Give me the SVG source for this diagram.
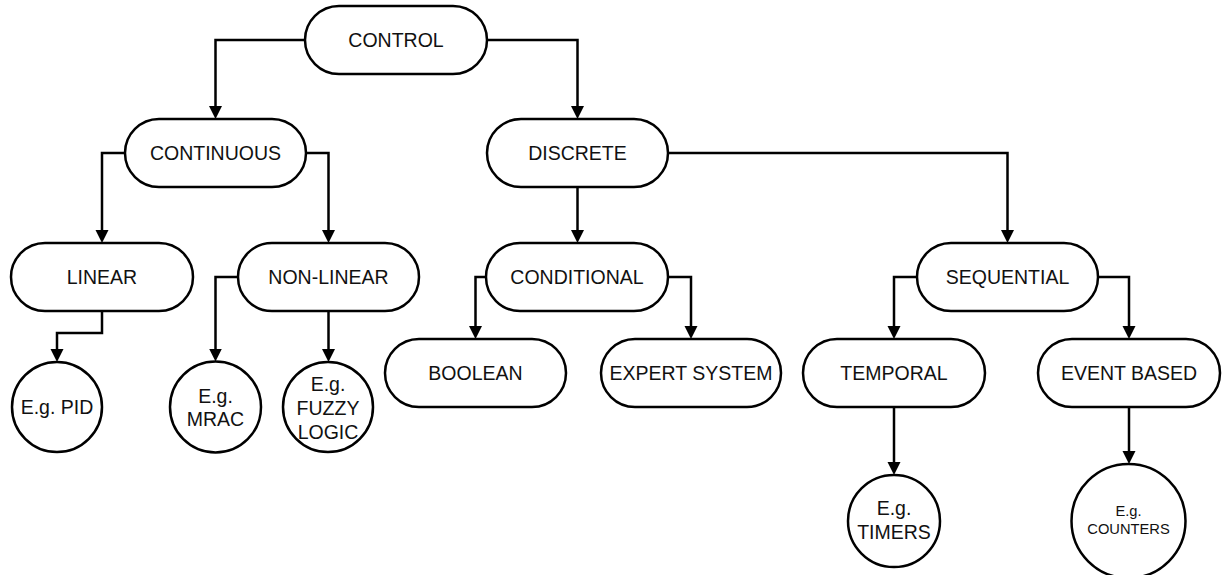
<svg xmlns="http://www.w3.org/2000/svg" width="1225" height="575" viewBox="0 0 1225 575">
<style>
.n{fill:#fff;stroke:#000;stroke-width:2.5}
.t{font-family:"Liberation Sans",Arial,sans-serif;font-size:19.5px;fill:#111;text-anchor:middle}
.s{font-size:14.7px}
.c{fill:none;stroke:#000;stroke-width:2.5}
</style>
<defs>
<marker id="a" markerUnits="userSpaceOnUse" markerWidth="14" markerHeight="14" refX="7" refY="6.5" orient="auto">
<path d="M0,0 L13,6.5 L0,13 z" fill="#000"/>
</marker>
</defs>
<rect width="1225" height="575" fill="#fff"/>
<g id="connectors">
<path class="c" marker-end="url(#a)" d="M305,40 H215.5 V113"/>
<path class="c" marker-end="url(#a)" d="M487,40 H577.5 V113"/>
<path class="c" marker-end="url(#a)" d="M125,153 H102 V237"/>
<path class="c" marker-end="url(#a)" d="M306,153 H328.5 V237"/>
<path class="c" marker-end="url(#a)" d="M577.5,187 V237"/>
<path class="c" marker-end="url(#a)" d="M668,153 H1007.5 V237"/>
<path class="c" marker-end="url(#a)" d="M102,311 V333 H57 V356"/>
<path class="c" marker-end="url(#a)" d="M238,277 H215.5 V355.5"/>
<path class="c" marker-end="url(#a)" d="M328.5,311 V356"/>
<path class="c" marker-end="url(#a)" d="M486,277 H475.5 V333"/>
<path class="c" marker-end="url(#a)" d="M668,277 H691 V333"/>
<path class="c" marker-end="url(#a)" d="M917,277 H894 V333"/>
<path class="c" marker-end="url(#a)" d="M1098,277 H1129 V333"/>
<path class="c" marker-end="url(#a)" d="M894,407 V469"/>
<path class="c" marker-end="url(#a)" d="M1129,407 V458"/>
</g>
<g id="control"><rect class="n" x="305" y="6" width="182" height="68" rx="34"/><text class="t" x="396" y="47">CONTROL</text></g>
<g id="continuous"><rect class="n" x="125" y="119" width="181" height="68" rx="34"/><text class="t" x="215.5" y="160">CONTINUOUS</text></g>
<g id="discrete"><rect class="n" x="487" y="119" width="181" height="68" rx="34"/><text class="t" x="577.5" y="160">DISCRETE</text></g>
<g id="linear"><rect class="n" x="11" y="243" width="182" height="68" rx="34"/><text class="t" x="102" y="284">LINEAR</text></g>
<g id="nonlinear"><rect class="n" x="238" y="243" width="181" height="68" rx="34"/><text class="t" x="328.5" y="284">NON-LINEAR</text></g>
<g id="conditional"><rect class="n" x="486" y="243" width="182" height="68" rx="34"/><text class="t" x="577" y="284">CONDITIONAL</text></g>
<g id="sequential"><rect class="n" x="917" y="243" width="181" height="68" rx="34"/><text class="t" x="1007.5" y="284">SEQUENTIAL</text></g>
<g id="boolean"><rect class="n" x="385" y="339" width="181" height="68" rx="34"/><text class="t" x="475.5" y="380">BOOLEAN</text></g>
<g id="expert"><rect class="n" x="601" y="339" width="180" height="68" rx="34"/><text class="t" x="691" y="380">EXPERT SYSTEM</text></g>
<g id="temporal"><rect class="n" x="803" y="339" width="182" height="68" rx="34"/><text class="t" x="894" y="380">TEMPORAL</text></g>
<g id="eventbased"><rect class="n" x="1038" y="339" width="182" height="68" rx="34"/><text class="t" x="1129" y="380">EVENT BASED</text></g>
<g id="pid"><circle class="n" cx="57" cy="407" r="45"/><text class="t" x="57" y="414">E.g. PID</text></g>
<g id="mrac"><circle class="n" cx="215.5" cy="407" r="45.5"/><text class="t" x="215.5" y="403">E.g.</text><text class="t" x="215.5" y="426">MRAC</text></g>
<g id="fuzzy"><circle class="n" cx="328" cy="407" r="45"/><text class="t" x="328" y="391">E.g.</text><text class="t" x="328" y="415">FUZZY</text><text class="t" x="328" y="438.5">LOGIC</text></g>
<g id="timers"><circle class="n" cx="894" cy="521" r="46"/><text class="t" x="894" y="515">E.g.</text><text class="t" x="894" y="539">TIMERS</text></g>
<g id="counters"><circle class="n" cx="1128.5" cy="521" r="57"/><text class="t s" x="1128.5" y="516">E.g.</text><text class="t s" x="1128.5" y="534">COUNTERS</text></g>
</svg>
